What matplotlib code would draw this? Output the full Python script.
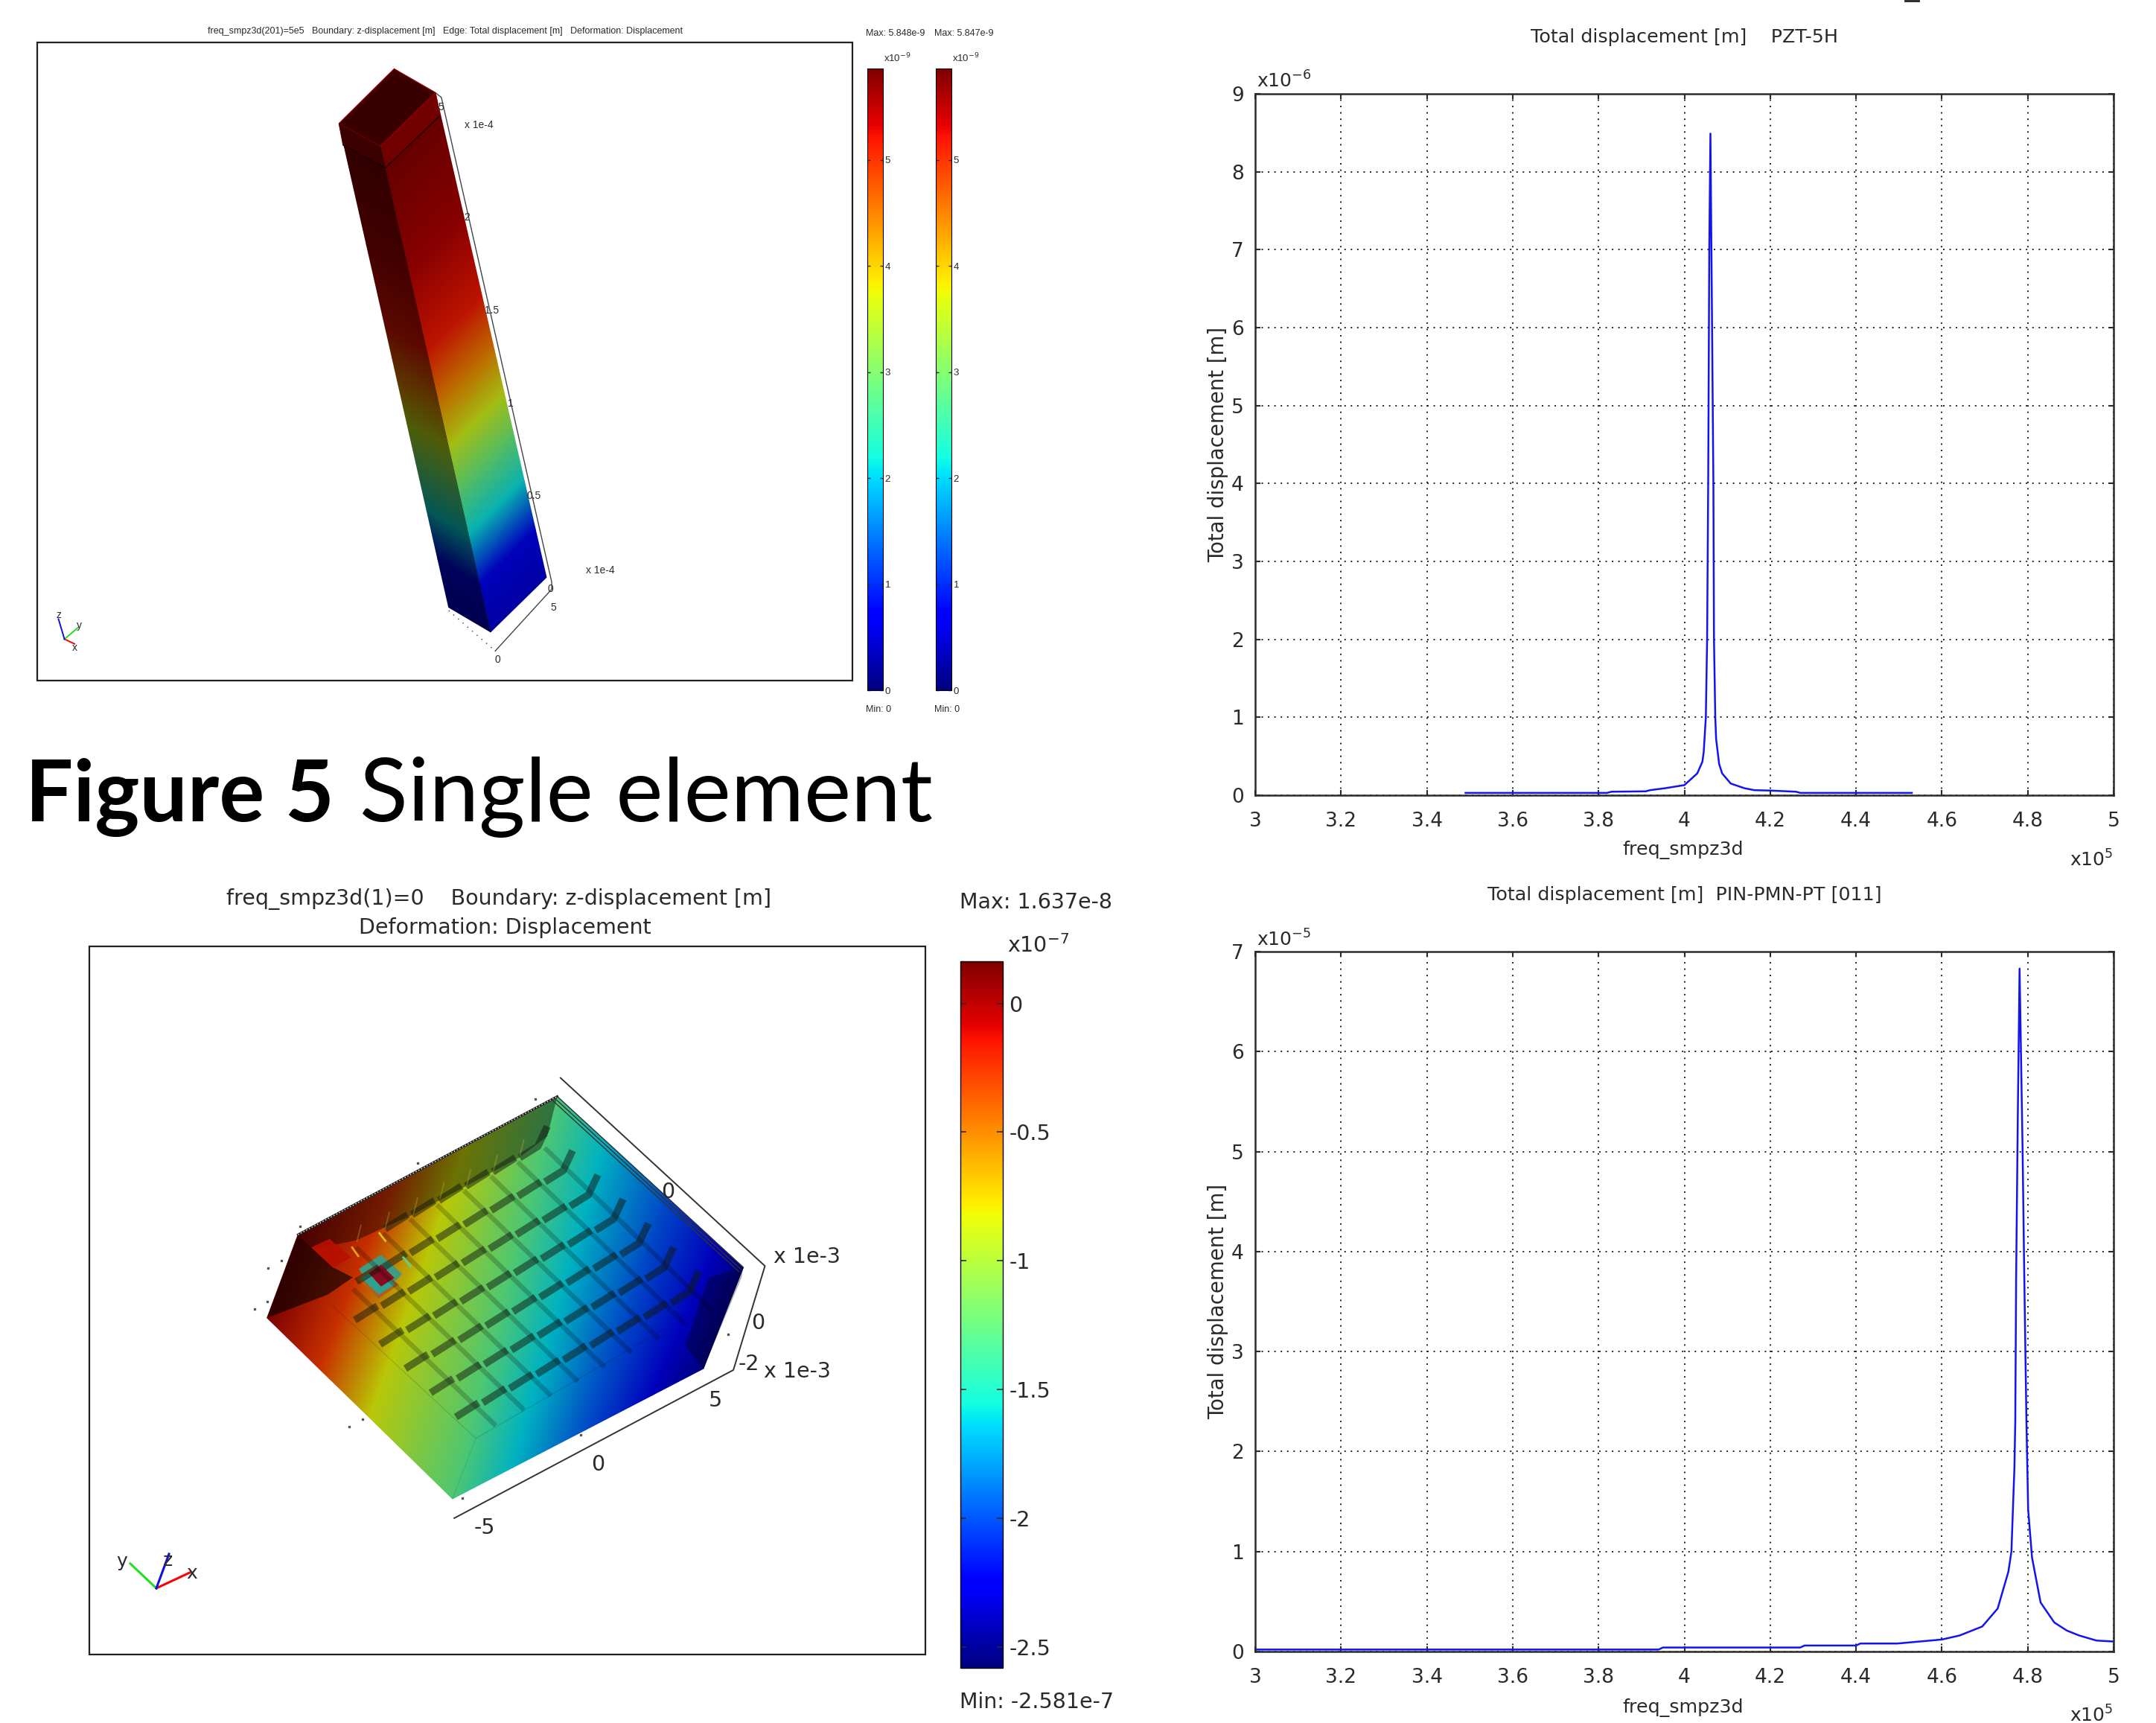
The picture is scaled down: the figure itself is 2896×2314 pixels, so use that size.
import matplotlib
matplotlib.use("Agg")
import matplotlib.pyplot as plt
import numpy as np
from matplotlib.cm import ScalarMappable
from matplotlib.colors import ListedColormap, Normalize
from matplotlib.patches import Polygon, Rectangle

W, H = 2896, 2314

# PZT-5H curve (x in 1e5, y in 1e-6)
pzt_freq = [3.49, 3.82, 3.83, 3.91, 3.92, 3.955, 4.0, 4.03, 4.042, 4.045, 4.05, 4.053, 4.0555, 4.058, 4.0607,
            4.063, 4.0676, 4.069, 4.072, 4.074, 4.081, 4.088, 4.108, 4.14, 4.163, 4.2, 4.26, 4.27, 4.53]
pzt_disp = [0.03, 0.03, 0.045, 0.05, 0.065, 0.09, 0.13, 0.28, 0.43, 0.55, 1.0, 2.0, 4.0, 7.0, 8.49,
            7.0, 4.0, 2.0, 1.0, 0.72, 0.40, 0.28, 0.15, 0.09, 0.065, 0.06, 0.045, 0.03, 0.03]

# PIN-PMN-PT curve (x in 1e5, y in 1e-5)
pin_freq = [3.0, 3.94, 3.95, 4.27, 4.28, 4.40, 4.41, 4.496, 4.548, 4.6, 4.641, 4.694, 4.73, 4.755, 4.762, 4.769,
            4.771, 4.773, 4.777, 4.781, 4.788, 4.792, 4.797, 4.801, 4.81, 4.83, 4.862, 4.891, 4.92, 4.96, 5.0]
pin_disp = [0.02, 0.02, 0.04, 0.04, 0.06, 0.06, 0.08, 0.08, 0.10, 0.12, 0.16, 0.25, 0.43, 0.8, 1.0, 1.84,
            2.3, 3.74, 5.4, 6.83, 5.02, 3.74, 2.3, 1.42, 0.94, 0.49, 0.29, 0.21, 0.16, 0.11, 0.10]

x_ticks = [3, 3.2, 3.4, 3.6, 3.8, 4, 4.2, 4.4, 4.6, 4.8, 5]
x_tick_labels = ["3", "3.2", "3.4", "3.6", "3.8", "4", "4.2", "4.4", "4.6", "4.8", "5"]
pzt_y_ticks = [0, 1, 2, 3, 4, 5, 6, 7, 8, 9]
pin_y_ticks = [0, 1, 2, 3, 4, 5, 6, 7]

# colour bars
bar_top_ticks = [0, 1, 2, 3, 4, 5]
bar_low_ticks = [0, -0.5, -1, -1.5, -2, -2.5]
bar_low_labels = ["0", "-0.5", "-1", "-1.5", "-2", "-2.5"]

# single element column: position along the column and colour value
col_t = [0, 0.1, 0.2, 0.3, 0.38, 0.47, 0.58, 0.75, 1.0]
col_v = [0.08, 0.13, 0.36, 0.5, 0.62, 0.75, 0.88, 0.95, 1.0]

# array plate: stations across the plate (top edge, bottom edge, colour value)
plate_top = [(135, 570), (420, 393), (640, 256), (915, 85), (1060, 240), (1240, 433), (1400, 605), (1475, 685)]
plate_bot = [(42, 862), (200, 1042), (350, 1212), (600, 1497), (780, 1388), (1000, 1255), (1200, 1134), (1355, 1040)]
plate_v = [0.97, 0.84, 0.64, 0.47, 0.35, 0.22, 0.10, 0.03]

GREY = "#2a2a2a"
BLUE = "#1414f0"
NARROW = "Liberation Sans"


def top_px(pts):
    # crop coordinates of the column panel to figure pixels
    a = np.array(pts, float)
    return np.c_[a[:, 0] / 1.12, a[:, 1] / 1.567]


def low_px(pts):
    # crop coordinates of the array panel to figure pixels
    a = np.array(pts, float)
    return np.c_[340 + a[:, 0] / 2.24, 1440 + a[:, 1] / 2.613]


def shaded(shade):
    c = plt.get_cmap("jet")(np.linspace(0, 1, 256))
    c[:, :3] *= shade
    return ListedColormap(c)


def new_axes(fig, l, t, r, b):
    return fig.add_axes([l / W, 1 - b / H, (r - l) / W, (b - t) / H])


def draw_curve(fig, t, b, freq, disp, y_ticks, y_max, title, title_y, y_power, power_y, xlabel_y, x_power_y):
    ax = new_axes(fig, 1686, t, 2839, b)
    ax.plot(freq, disp, color=BLUE, lw=1.8)
    ax.set_xlim(3, 5)
    ax.set_ylim(0, y_max)
    ax.set_xticks(x_ticks)
    ax.set_xticklabels(x_tick_labels)
    ax.set_yticks(y_ticks)
    ax.tick_params(direction="in", top=True, right=True, length=5, width=1.5, labelsize=19,
                   colors=GREY, pad=11)
    ax.tick_params(axis="x", pad=16)
    ax.grid(True, color="#222222", lw=1.4, linestyle=(0, (1, 3.4)))
    for s in ax.spines.values():
        s.set_linewidth(1.8)
        s.set_color(GREY)
    ov = fig.axes[0]
    ov.text(2263, title_y, title, ha="center", va="center", fontsize=18.3, color=GREY)
    ov.text(2261, xlabel_y, "freq_smpz3d", ha="center", va="center", fontsize=18.3, color=GREY)
    ov.text(1636, (t + b) / 2, "Total displacement [m]", rotation=90, ha="center", va="center",
            fontsize=19.8, color=GREY)
    ov.text(1688, power_y, "x10$^{%s}$" % y_power, ha="left", va="center", fontsize=18, color=GREY)
    ov.text(2780, x_power_y, "x10$^{5}$", ha="left", va="center", fontsize=18, color=GREY)


def draw_column(ov):
    # left and right faces, then the cap
    faces = [
        ([(510, 260), (572, 308)], [(675, 1278), (738, 1330)], 0.36),
        ([(572, 308), (655, 195)], [(738, 1330), (822, 1215)], 0.74),
    ]
    for top_edge, bot_edge, shade in faces:
        top_edge = top_px(top_edge)
        bot_edge = top_px(bot_edge)
        t = np.array(col_t)[None, :]
        X = bot_edge[:, 0][:, None] + (top_edge[:, 0] - bot_edge[:, 0])[:, None] * t
        Y = bot_edge[:, 1][:, None] + (top_edge[:, 1] - bot_edge[:, 1])[:, None] * t
        C = np.tile(col_v, (2, 1))
        ov.pcolormesh(X, Y, C, cmap=shaded(shade), vmin=0, vmax=1, shading="gouraud")
    ov.add_patch(Polygon(top_px([(510, 260), (593, 145), (655, 195), (572, 308)]), fc="#3a0000", ec="#8a0000", lw=1))
    ov.add_patch(Polygon(top_px([(572, 308), (655, 195), (662, 243), (580, 353)]), fc="#720000", ec="#8a0000", lw=0.8))
    ov.add_patch(Polygon(top_px([(510, 260), (572, 308), (580, 353), (516, 305)]), fc="#3c0000", ec="#5a0000", lw=0.8))
    p = top_px([(516, 305), (580, 353), (662, 243)])
    ov.plot(p[:, 0], p[:, 1], color="#1a0000", lw=1)
    p = top_px([(572, 308), (738, 1330)])
    ov.plot(p[:, 0], p[:, 1], color="#101010", lw=0.7, alpha=0.7)
    # wire axes
    p = top_px([(655, 195), (664, 205), (830, 1225), (830, 1240), (745, 1370)])
    ov.plot(p[:, 0], p[:, 1], color="#444444", lw=1)
    p = top_px([(675, 1285), (745, 1370)])
    ov.plot(p[:, 0], p[:, 1], color="#333333", lw=1, linestyle=(0, (1, 5)))
    labels = [("5", 663, 225), ("x 1e-4", 720, 263), ("2", 703, 458), ("1.5", 740, 653), ("1", 768, 850),
              ("0.5", 803, 1043), ("0", 828, 1240), ("5", 832, 1278), ("0", 749, 1388), ("x 1e-4", 903, 1200)]
    for s, x, y in labels:
        q = top_px([(x, y)])[0]
        ov.text(q[0], q[1], s, ha="center", va="center", fontsize=10, family=NARROW, color=GREY)
    # triad
    o = (97, 1345)
    for end, c in [((112, 1355), "red"), ((118, 1320), "#20e020"), ((88, 1303), "#1010e0")]:
        p = top_px([o, end])
        ov.plot(p[:, 0], p[:, 1], color=c, lw=1.4)
    for s, x, y in [("z", 88, 1295), ("y", 119, 1316), ("x", 112, 1363)]:
        q = top_px([(x, y)])[0]
        ov.text(q[0], q[1], s, ha="center", va="center", fontsize=10, family=NARROW, color=GREY)


def draw_plate(ov):
    top = low_px(plate_top)
    bot = low_px(plate_bot)
    X = np.vstack([top[:, 0], bot[:, 0]])
    Y = np.vstack([top[:, 1], bot[:, 1]])
    C = np.vstack([plate_v, plate_v])
    ov.pcolormesh(X, Y, C, cmap=shaded(0.78), vmin=0, vmax=1, shading="gouraud")

    # darker walls around the recess
    walls = [
        ([(135, 570), (915, 85), (885, 225), (800, 300), (640, 400), (480, 500), (310, 590), (180, 620)], 0.42),
        ([(135, 570), (180, 620), (240, 685), (300, 720), (225, 780), (42, 862)], 0.62),
        ([(1475, 685), (1470, 720), (1355, 1040), (1300, 960), (1370, 720)], 0.3),
    ]
    for pts, alpha in walls:
        ov.add_patch(Polygon(low_px(pts), fc="black", ec="none", alpha=alpha))
    ov.add_patch(Polygon(low_px([(175, 615), (230, 585), (295, 650), (240, 685)]), fc="#b81000", ec="none", alpha=0.9))

    # bevel under the recess
    p = low_px([(240, 820), (670, 1285), (1240, 900)])
    ov.plot(p[:, 0], p[:, 1], color="black", lw=1, alpha=0.12)
    p = low_px([(670, 1285), (600, 1497)])
    ov.plot(p[:, 0], p[:, 1], color="black", lw=1, alpha=0.08)

    # kerfs: thin lines one way, short thick bars the other
    a = np.array([81, -50.0])
    b = np.array([-76, -85.0])
    for i in range(8):
        start = np.array([310, 615.0]) + i * a
        end = np.array([815, 1185.0]) + i * a
        p = low_px([start, end])
        ov.plot(p[:, 0], p[:, 1], color="black", lw=4.6, alpha=0.2, solid_capstyle="butt")
    p = low_px([(300, 760), (730, 1240)])
    ov.plot(p[:, 0], p[:, 1], color="black", lw=4.6, alpha=0.2, solid_capstyle="butt")
    for j in range(7):
        for i in range(9):
            if (j == 5 and i < 1) or (j == 6 and i < 3):
                continue
            s = np.array([610, 1210.0]) + i * a + j * b
            e = s + np.array([68, -50.0])
            if i == 8:
                e = s + np.array([55, -40.0])
                p = low_px([s, e, e + np.array([28, -70.0])])
            else:
                p = low_px([s, e])
            ov.plot(p[:, 0], p[:, 1], color="#101810", lw=7, alpha=0.5, solid_capstyle="butt")
    for x, y in [(815, 235), (735, 290), (655, 340), (575, 385), (495, 440), (410, 490), (325, 535)]:
        p = low_px([(x, y), (x - 13, y + 60)])
        ov.plot(p[:, 0], p[:, 1], color="#c0b040", lw=1.3, alpha=0.35, solid_capstyle="butt")

    # active element
    rings = [
        ([(318, 690), (385, 640), (448, 708), (375, 795)], "#3f9a80"),
        ([(312, 722), (370, 680), (438, 745), (378, 795)], "#b06018"),
        ([(325, 722), (375, 688), (428, 745), (378, 780)], "#30a090"),
        ([(348, 705), (385, 675), (425, 722), (385, 752)], "#8a0a20"),
    ]
    for pts, c in rings:
        ov.add_patch(Polygon(low_px(pts), fc=c, ec="none"))
    for pts, c in [([(380, 565), (398, 592)], "#d8c020"), ([(298, 615), (316, 645)], "#e0a020"),
                   ([(452, 650), (474, 682)], "#60d090")]:
        p = low_px(pts)
        ov.plot(p[:, 0], p[:, 1], color=c, lw=2)

    # edges and wire box
    p = low_px([(135, 570), (915, 85)])
    ov.plot(p[:, 0], p[:, 1], color="#222222", lw=2.2)
    ov.plot(p[:, 0], p[:, 1], color="white", lw=1, linestyle=(0, (1, 2)))
    for d in [0, 7, 14]:
        p = low_px([(915 - d, 85 + d), (1475 - d, 685 + d)])
        ov.plot(p[:, 0], p[:, 1], color="#333333", lw=1)
    p = low_px([(925, 20), (1540, 680), (1445, 1045), (605, 1565)])
    ov.plot(p[:, 0], p[:, 1], color="#333333", lw=1.4)

    specks = low_px([(850, 95), (495, 318), (142, 540), (85, 662), (45, 688), (42, 805), (5, 830), (290, 1243),
                     (330, 1218), (985, 1273), (630, 1495), (1430, 920)])
    ov.plot(specks[:, 0], specks[:, 1], ls="none", marker="s", ms=1.5, color="#555555")


def main():
    fig = plt.figure(figsize=(W / 100, H / 100), dpi=100, facecolor="white")
    ov = fig.add_axes([0, 0, 1, 1])
    ov.set_xlim(0, W)
    ov.set_ylim(H, 0)
    ov.axis("off")

    # top left panel
    ov.add_patch(Rectangle((50, 57), 1095, 857, fc="white", ec="#222222", lw=1.6))
    ov.text(598, 42, "freq_smpz3d(201)=5e5   Boundary: z-displacement [m]   Edge: Total displacement [m]   "
            "Deformation: Displacement", ha="center", va="center", fontsize=9, family=NARROW, color=GREY)
    draw_column(ov)
    for left, max_text in [(1165, "Max: 5.848e-9"), (1257, "Max: 5.847e-9")]:
        cax = new_axes(fig, left, 92, left + 21, 927)
        cb = fig.colorbar(ScalarMappable(Normalize(0, 5.86), "jet"), cax=cax)
        cb.set_ticks(bar_top_ticks)
        cb.set_ticklabels([str(t) for t in bar_top_ticks])
        cax.tick_params(direction="in", left=True, right=True, length=3, width=1, pad=2, labelsize=9.5,
                        colors=GREY)
        for t in cax.get_yticklabels():
            t.set_family(NARROW)
        cb.outline.set_linewidth(0.8)
        ov.text(left - 2, 45, max_text, ha="left", va="center", fontsize=9, family=NARROW, color=GREY)
        ov.text(left + 22, 78, "x10$^{-9}$", ha="left", va="center", fontsize=9.5, family=NARROW, color=GREY)
        ov.text(left - 2, 953, "Min: 0", ha="left", va="center", fontsize=9, family=NARROW, color=GREY)

    # caption
    ov.text(34, 1103, "Figure 5", ha="left", va="baseline", fontsize=82, fontweight="bold", family="Lato",
            color="black")
    ov.text(483, 1103, "Single element", ha="left", va="baseline", fontsize=86, family="Lato", color="black")

    # bottom left panel
    ov.add_patch(Rectangle((120, 1271), 1123, 951, fc="white", ec="#222222", lw=1.6))
    ov.text(670, 1208, "freq_smpz3d(1)=0    Boundary: z-displacement [m]", ha="center", va="center",
            fontsize=20.5, color=GREY)
    ov.text(678, 1246, "Deformation: Displacement", ha="center", va="center", fontsize=20.5, color=GREY)
    draw_plate(ov)
    for s, x, y in [("x 1e-3", 1084, 1688), ("0", 897, 1601), ("0", 1018, 1777), ("-2", 1006, 1832),
                    ("x 1e-3", 1071, 1842), ("5", 961, 1881), ("0", 803, 1967), ("-5", 651, 2052)]:
        ov.text(x, y, s, ha="center", va="center", fontsize=20.5, color=GREY)
    o = (210, 2133)
    for end, c in [((255, 2112), "red"), ((175, 2100), "#20e020"), ((227, 2087), "#1010e0")]:
        ov.plot([o[0], end[0]], [o[1], end[1]], color=c, lw=2.2)
    for s, x, y in [("y", 164, 2097), ("z", 226, 2096), ("x", 258, 2113)]:
        ov.text(x, y, s, ha="center", va="center", fontsize=18, color=GREY)
    cax = new_axes(fig, 1290, 1291, 1347, 2240)
    cb = fig.colorbar(ScalarMappable(Normalize(-2.581, 0.1637), "jet"), cax=cax)
    cb.set_ticks(bar_low_ticks)
    cb.set_ticklabels(bar_low_labels)
    cax.tick_params(direction="in", left=True, right=True, length=6, width=1.2, pad=6, labelsize=20.5, colors=GREY)
    cb.outline.set_linewidth(1)
    ov.text(1289, 1212, "Max: 1.637e-8", ha="left", va="center", fontsize=20.5, color=GREY)
    ov.text(1353, 1270, "x10$^{-7}$", ha="left", va="center", fontsize=20.5, color=GREY)
    ov.text(1289, 2286, "Min: -2.581e-7", ha="left", va="center", fontsize=20.5, color=GREY)

    # right charts
    draw_curve(fig, 126, 1068, pzt_freq, pzt_disp, pzt_y_ticks, 9,
               "Total displacement [m]    PZT-5H", 50, "-6", 109, 1141, 1155)
    draw_curve(fig, 1278, 2218, pin_freq, pin_disp, pin_y_ticks, 7,
               "Total displacement [m]  PIN-PMN-PT [011]", 1202, "-5", 1262, 2294, 2304)
    ov.plot([2559, 2577], [1, 1], color="#222222", lw=2)

    fig.savefig("out.png", dpi=100)


if __name__ == "__main__":
    main()
